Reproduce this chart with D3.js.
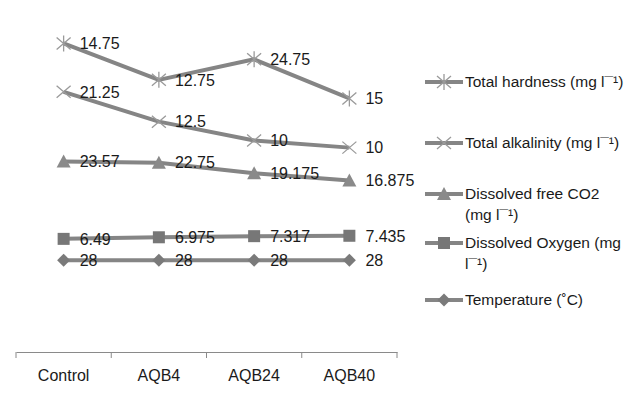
<!DOCTYPE html>
<html><head><meta charset="utf-8">
<script src="https://cdn.jsdelivr.net/npm/d3@7/dist/d3.min.js"></script>
<style>
body{margin:0;background:#fff;}
text{font-family:"Liberation Sans",Arial,sans-serif;fill:#1a1a1a;}
</style></head>
<body>
<svg id="chart" width="643" height="395"></svg>
<script>
const categories = ["Control","AQB4","AQB24","AQB40"];
// stacking order: bottom first
const seriesNames = ["Temperature  (˚C)","Dissolved Oxygen (mg l¯¹)","Dissolved free CO2 (mg l¯¹)","Total alkalinity (mg l¯¹)","Total hardness (mg l¯¹)"];
const temperature = [28,28,28,28];
const dissolvedOxygen = [6.49,6.975,7.317,7.435];
const dissolvedCO2 = [23.57,22.75,19.175,16.875];
const totalAlkalinity = [21.25,12.5,10,10];
const totalHardness = [14.75,12.75,24.75,15];
const labelTexts = [
  ["28","28","28","28"],
  ["6.49","6.975","7.317","7.435"],
  ["23.57","22.75","19.175","16.875"],
  ["21.25","12.5","10","10"],
  ["14.75","12.75","24.75","15"]
];
const markers = ["diamond","square","triangle","x","star"];

const svg = d3.select("#chart");
const x = d3.scaleBand().domain(categories).range([16,397]);
const y = d3.scaleLinear().domain([0,100]).range([352,24]);
const cx = c => x(c)+x.bandwidth()/2;

const rows = categories.map((c,i)=>({cat:c, s0:temperature[i], s1:dissolvedOxygen[i], s2:dissolvedCO2[i], s3:totalAlkalinity[i], s4:totalHardness[i]}));
const stack = d3.stack().keys(["s0","s1","s2","s3","s4"]);
const stacked = stack(rows);

// axis
const axis = d3.axisBottom(x).tickSize(0).tickPadding(18);
const ax = svg.append("g").attr("transform","translate(0,352)").call(axis);
ax.select(".domain").attr("stroke","#8a8a8a").attr("stroke-width",1);
ax.selectAll("text").attr("font-size","16px").attr("fill","#1a1a1a").style("font-family","'Liberation Sans',Arial,sans-serif");
// boundary ticks
const edges = categories.map(c=>x(c)).concat([x(categories[categories.length-1])+x.bandwidth()]);
svg.append("g").selectAll("line").data(edges).join("line")
  .attr("x1",d=>d).attr("x2",d=>d).attr("y1",352).attr("y2",358)
  .attr("stroke","#8a8a8a").attr("stroke-width",1);

const lineColor = "#858585";
const line = d3.line().x(d=>cx(d.data.cat)).y(d=>y(d[1]));

function drawMarker(g, type, px, py){
  if(type==="diamond"){
    g.append("path").attr("d",`M${px},${py-6.5}L${px+6.5},${py}L${px},${py+6.5}L${px-6.5},${py}Z`).attr("fill","#7a7a7a");
  } else if(type==="square"){
    g.append("rect").attr("x",px-6).attr("y",py-6).attr("width",12).attr("height",12).attr("fill","#777");
  } else if(type==="triangle"){
    g.append("path").attr("d",`M${px},${py-7}L${px+7},${py+6}L${px-7},${py+6}Z`).attr("fill","#8a8a8a");
  } else if(type==="x"){
    g.append("path").attr("d",`M${px-7},${py-6}L${px+7},${py+6}M${px-7},${py+6}L${px+7},${py-6}`).attr("stroke","#9a9a9a").attr("stroke-width",1.3).attr("fill","none");
  } else if(type==="star"){
    g.append("path").attr("d",`M${px-7},${py-6}L${px+7},${py+6}M${px-7},${py+6}L${px+7},${py-6}M${px},${py-8}L${px},${py+8}`).attr("stroke","#9a9a9a").attr("stroke-width",1.3).attr("fill","none");
  }
}

stacked.forEach((s,si)=>{
  const g = svg.append("g");
  g.append("path").datum(s).attr("d",line).attr("fill","none").attr("stroke",lineColor).attr("stroke-width",4).attr("stroke-linejoin","round");
  s.forEach(d=>drawMarker(g, markers[si], cx(d.data.cat), y(d[1])));
});
// labels
stacked.forEach((s,si)=>{
  svg.append("g").selectAll("text").data(s).join("text")
    .attr("x",d=>cx(d.data.cat)+16)
    .attr("y",d=>y(d[1]))
    .attr("dy","0.36em")
    .attr("font-size","16px")
    .text((d,i)=>labelTexts[si][i]);
});

// legend (top to bottom: reverse of stacking)
const legendItems = [
  {m:"star", lines:["Total hardness (mg l¯¹)"], y:81},
  {m:"x", lines:["Total alkalinity (mg l¯¹)"], y:142},
  {m:"triangle", lines:["Dissolved free CO2","(mg l¯¹)"], y:193},
  {m:"square", lines:["Dissolved Oxygen (mg","l¯¹)"], y:242},
  {m:"diamond", lines:["Temperature  (˚C)"], y:299}
];
legendItems.forEach(it=>{
  const g = svg.append("g");
  g.append("line").attr("x1",425).attr("x2",463).attr("y1",it.y+1).attr("y2",it.y+1).attr("stroke",lineColor).attr("stroke-width",4);
  drawMarker(g, it.m, 444, it.y+1);
  it.lines.forEach((t,k)=>{
    g.append("text").attr("x",465).attr("y",it.y+k*21).attr("dy","0.36em").attr("font-size","15.5px").text(t);
  });
});
</script>
</body></html>
